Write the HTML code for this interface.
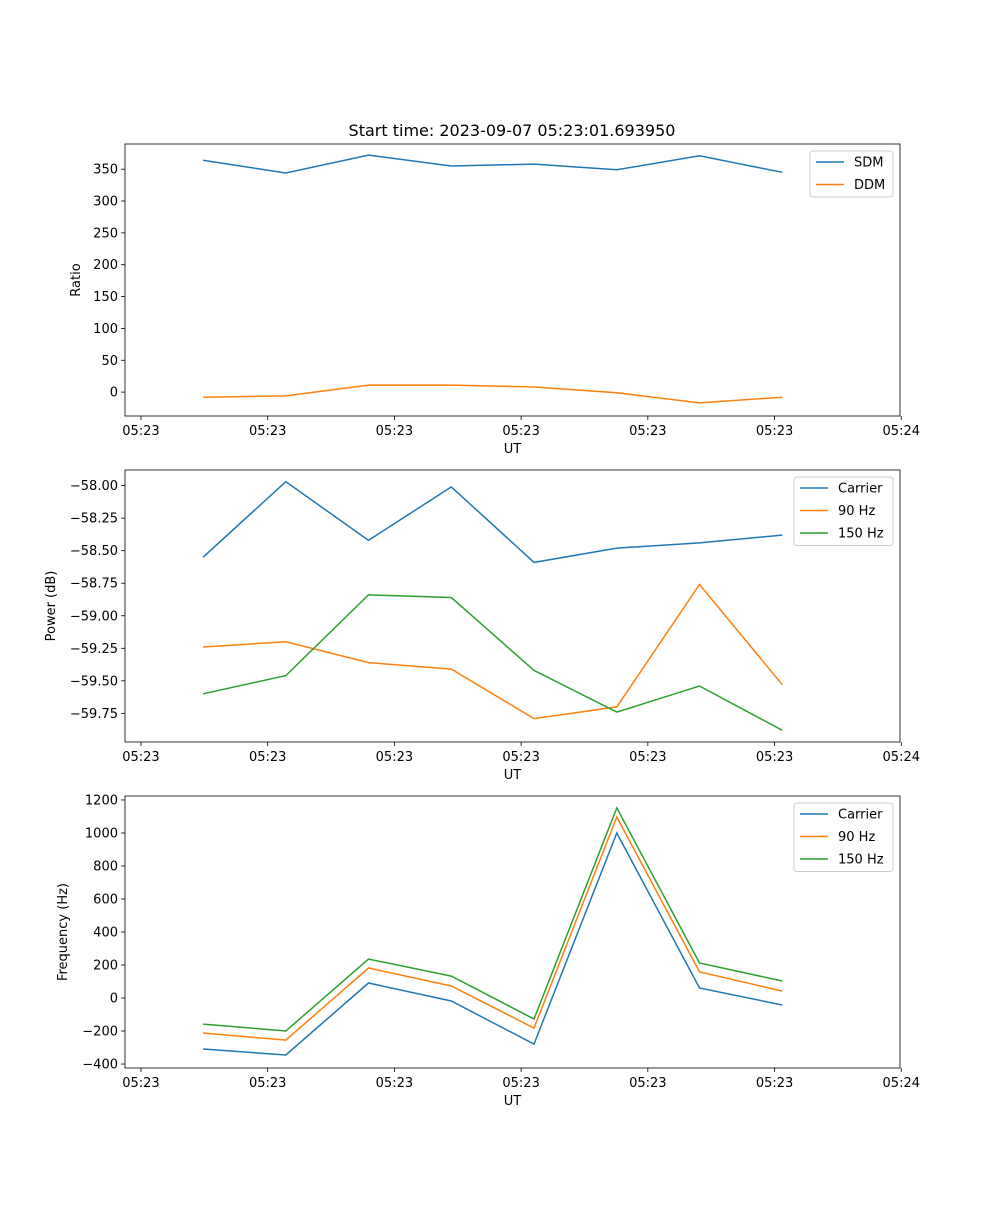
<!DOCTYPE html>
<html><head><meta charset="utf-8"><style>
body{margin:0;background:#fff;}
svg{font-family:"DejaVu Sans","Liberation Sans",sans-serif;}
</style></head><body>
<svg id="fig" width="1000" height="1200" xmlns="http://www.w3.org/2000/svg">
<rect width="1000" height="1200" fill="#fff"/>
<text x="512" y="136" font-size="16" text-anchor="middle">Start time: 2023-09-07 05:23:01.693950</text>
</svg>
<script>
const times=[4.9,11.43,17.96,24.49,31.02,37.55,44.08,50.61];
const xTicks=[0,10,20,30,40,50,60];
const xTickLabels=["05:23","05:23","05:23","05:23","05:23","05:23","05:24"];
const sdm=[364,344,372,355,358,349,371,345];
const ddm=[-8,-6,11,11,8,-1,-17,-8];
const pCarrier=[-58.55,-57.97,-58.42,-58.01,-58.59,-58.48,-58.44,-58.38];
const p90=[-59.24,-59.20,-59.36,-59.41,-59.79,-59.70,-58.76,-59.53];
const p150=[-59.60,-59.46,-58.84,-58.86,-59.42,-59.74,-59.54,-59.88];
const fCarrier=[-309,-345,91,-18,-279,1000,61,-42];
const f90=[-212,-255,182,73,-182,1097,158,42];
const f150=[-158,-200,236,133,-127,1152,212,103];
const ticks1=[0,50,100,150,200,250,300,350];
const ticks2=[-58.00,-58.25,-58.50,-58.75,-59.00,-59.25,-59.50,-59.75];
const ticks3=[-400,-200,0,200,400,600,800,1000,1200];
const NS="http://www.w3.org/2000/svg";
const svg=document.getElementById('fig');
function el(t,a,p){const e=document.createElementNS(NS,t);for(const k in a)e.setAttribute(k,a[k]);(p||svg).appendChild(e);return e;}
const L=125,R=900,xmin=-1.26,xmax=59.9;
const sx=v=>L+(v-xmin)/(xmax-xmin)*(R-L);
function panel(name,top,bot,ymin,ymax,yt,fmt,ylabel,ylx,series,leg){
  const g=el('g',{});
  
  
  const sy=v=>bot-(v-ymin)/(ymax-ymin)*(bot-top);
  series.forEach(s=>{
    const pts=times.map((t,i)=>sx(t).toFixed(1)+','+sy(s.d[i]).toFixed(1)).join(' ');
    const pl=el('polyline',{points:pts,fill:'none',stroke:s.c,'stroke-width':1.5},g);
    
    
  });
  const fr=el('rect',{x:L,y:top,width:R-L,height:bot-top,fill:'none',stroke:'#000','stroke-width':0.8},g);
  
  
  xTicks.forEach((t,i)=>{
    const x=sx(t);
    el('line',{x1:x,x2:x,y1:bot,y2:bot+4,stroke:'#000','stroke-width':0.8},g);
    const tx=el('text',{x:x,y:bot+19,'font-size':13,'text-anchor':'middle'},g);
    tx.textContent=xTickLabels[i];
    
    
  });
  yt.forEach(v=>{
    const y=sy(v);
    el('line',{x1:L-4,x2:L,y1:y,y2:y,stroke:'#000','stroke-width':0.8},g);
    const tx=el('text',{x:L-7,y:y+4.5,'font-size':13,'text-anchor':'end'},g);
    tx.textContent=fmt(v);
    
    
  });
  const xl=el('text',{x:(L+R)/2,y:bot+37,'font-size':13,'text-anchor':'middle'},g);
  xl.textContent='UT';
  
  
  const yl=el('text',{x:ylx,y:(top+bot)/2,'font-size':13,'text-anchor':'middle',transform:`rotate(-90 ${ylx} ${(top+bot)/2})`},g);
  yl.textContent=ylabel;
  
  
  const lg=el('g',{},g);
  
  
  el('rect',{x:leg.x,y:top+7,width:leg.w,height:series.length*22.5+1,rx:3,fill:'#fff','fill-opacity':0.8,stroke:'#ccc'},lg);
  series.forEach((s,i)=>{
    const y=top+18+i*22.5;
    el('line',{x1:leg.x+6,x2:leg.x+34,y1:y,y2:y,stroke:s.c,'stroke-width':1.5},lg);
    const t=el('text',{x:leg.x+44,y:y+4.5,'font-size':13},lg);
    t.textContent=s.n;
    
    
  });
}
const B='#1f77b4',O='#ff7f0e',G='#2ca02c';
panel('ratio-panel',144,416,-37.5,389.5,ticks1,v=>String(v),'Ratio',80,[{n:'SDM',d:sdm,c:B},{n:'DDM',d:ddm,c:O}],{x:810,w:83});
panel('power-panel',470,742,-59.97,-57.88,ticks2,v=>v.toFixed(2).replace('-','\u2212'),'Power (dB)',55,[{n:'Carrier',d:pCarrier,c:B},{n:'90 Hz',d:p90,c:O},{n:'150 Hz',d:p150,c:G}],{x:794,w:99});
panel('frequency-panel',796,1068,-424,1224,ticks3,v=>String(v).replace('-','\u2212'),'Frequency (Hz)',67,[{n:'Carrier',d:fCarrier,c:B},{n:'90 Hz',d:f90,c:O},{n:'150 Hz',d:f150,c:G}],{x:794,w:99});
</script>
</body></html>
